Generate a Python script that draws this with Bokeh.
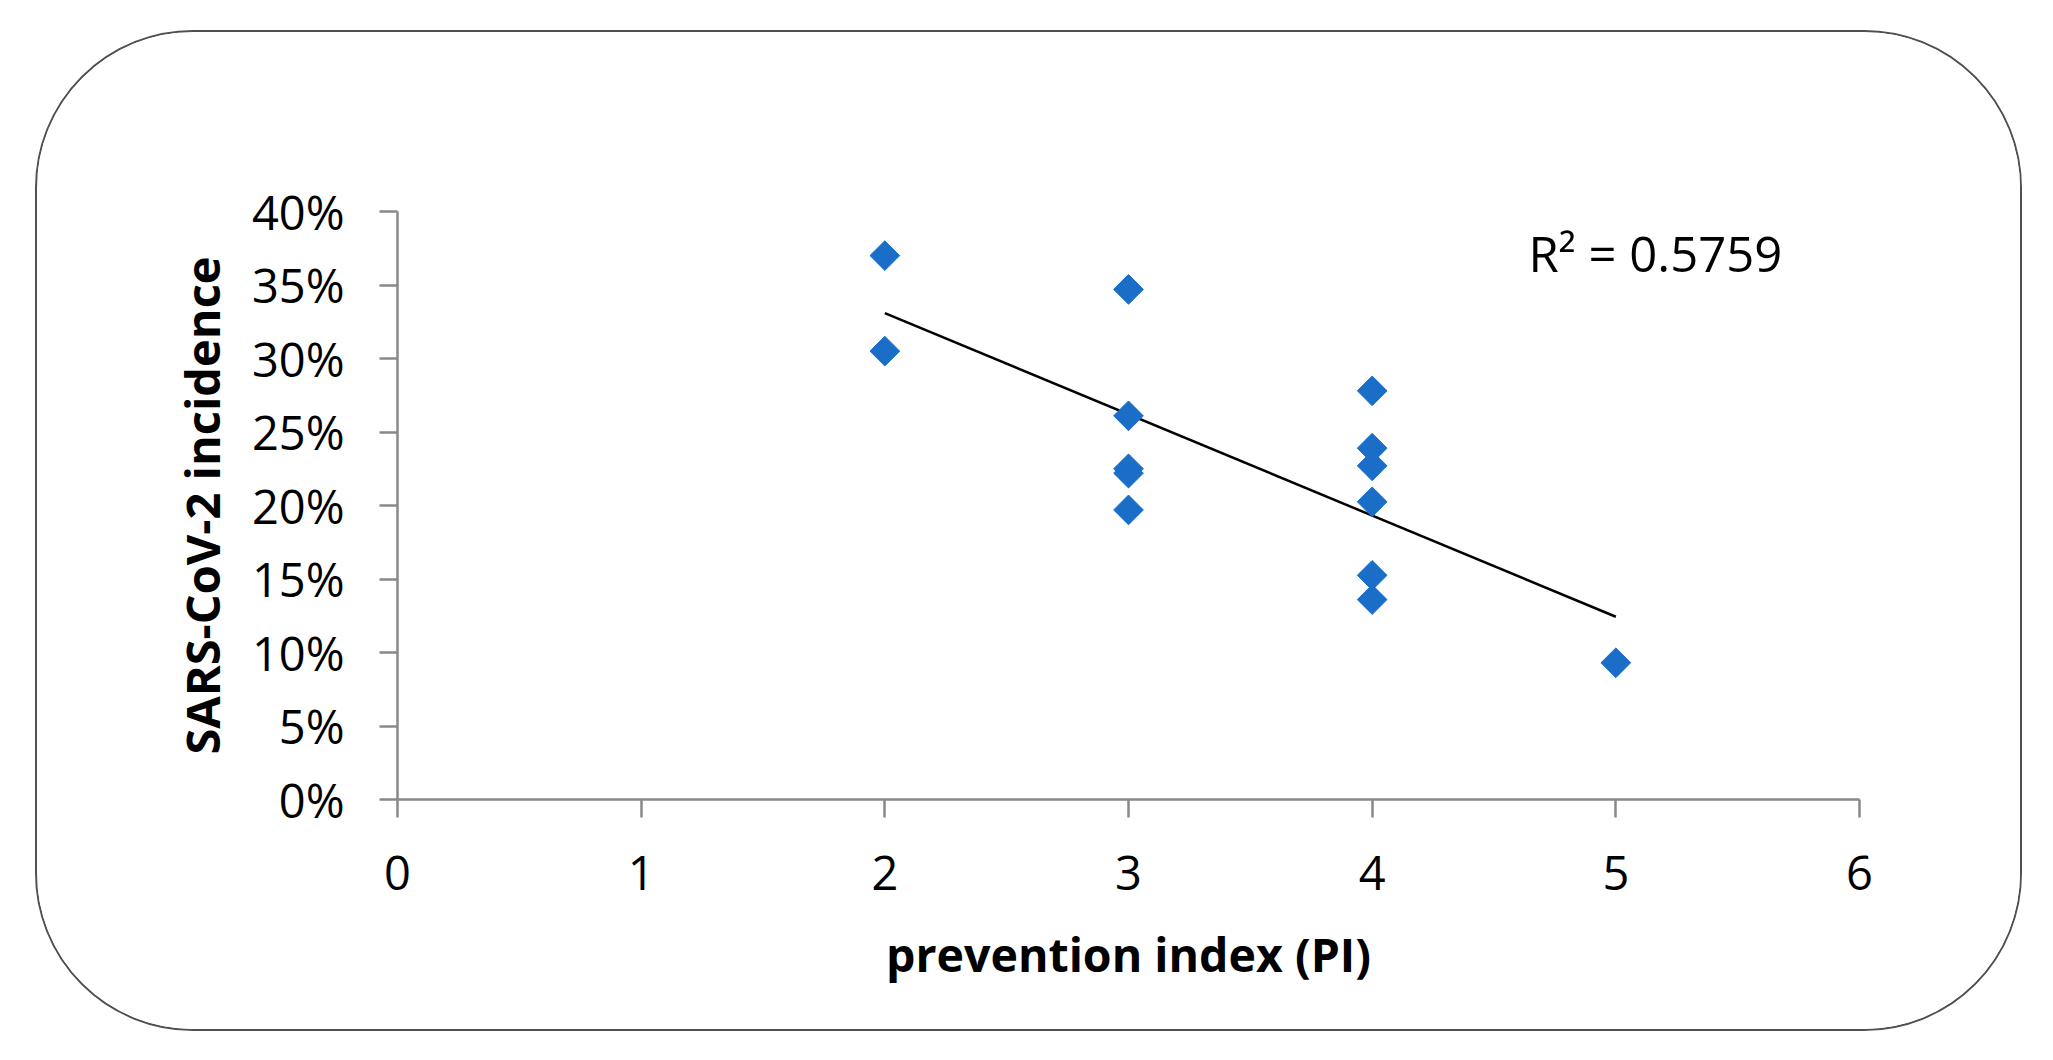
import numpy as np
from bokeh.plotting import figure
from bokeh.models import (Range1d, FixedTicker, NumeralTickFormatter, Label,
                          ColumnDataSource)
from bokeh.embed import file_html
from bokeh.resources import INLINE

# ---- data ----
prevention_index = [2, 2, 3, 3, 3, 3, 3, 4, 4, 4, 4, 4, 4, 5]
incidence = [0.370, 0.305, 0.347, 0.261, 0.225, 0.222, 0.197,
             0.278, 0.239, 0.227, 0.2025, 0.1525, 0.136, 0.093]
x_ticks = [0, 1, 2, 3, 4, 5, 6]
y_ticks = [0.0, 0.05, 0.10, 0.15, 0.20, 0.25, 0.30, 0.35, 0.40]
r2_text = "R\u00b2 = 0.5759"
x_title = "prevention index (PI)"
y_title = "SARS-CoV-2 incidence"

# linear trend line (least squares fit of the data)
slope, intercept = np.polyfit(prevention_index, incidence, 1)
trend_x = [min(prevention_index), max(prevention_index)]
trend_y = [slope * v + intercept for v in trend_x]

FONT = "Open Sans"
AXIS_COLOR = "#898989"

p = figure(width=1987, height=1001, output_backend="svg", toolbar_location=None,
           x_range=Range1d(0, 6), y_range=Range1d(0, 0.40),
           min_border_left=360, min_border_right=165,
           min_border_top=179, min_border_bottom=234)
p.margin = (30, 0, 0, 35)
p.styles = {"border": "2px solid #505050", "border-radius": "158px",
            "overflow": "hidden"}
p.outline_line_color = None
p.grid.visible = False
p.background_fill_color = "white"
p.border_fill_color = "white"

src = ColumnDataSource(dict(x=prevention_index, y=incidence))
p.line(trend_x, trend_y, line_color="black", line_width=2.5)
p.scatter("x", "y", source=src, marker="square", angle=np.pi / 4, size=21,
          fill_color="#1b6ec8", line_color="#1b6ec8", line_width=1)

for ax in (p.xaxis[0], p.yaxis[0]):
    ax.axis_line_color = AXIS_COLOR
    ax.axis_line_width = 2.5
    ax.major_tick_line_color = AXIS_COLOR
    ax.major_tick_line_width = 2.5
    ax.major_tick_out = 18
    ax.major_tick_in = 0
    ax.minor_tick_line_color = None
    ax.major_label_text_font = FONT
    ax.major_label_text_font_size = "47px"
    ax.major_label_text_color = "black"
    ax.axis_label_text_font = FONT
    ax.axis_label_text_font_size = "47px"
    ax.axis_label_text_font_style = "bold"
    ax.axis_label_text_color = "black"

p.xaxis[0].ticker = FixedTicker(ticks=x_ticks)
p.yaxis[0].ticker = FixedTicker(ticks=y_ticks)
p.yaxis[0].formatter = NumeralTickFormatter(format="0%")
p.xaxis[0].axis_label = x_title
p.yaxis[0].axis_label = y_title
p.xaxis[0].axis_label_text_font_size = "46.5px"
p.xaxis[0].major_label_standoff = 38
p.yaxis[0].major_label_standoff = 35
p.xaxis[0].axis_label_standoff = 29
p.yaxis[0].axis_label_standoff = 15

p.add_layout(Label(x=4.642, y=0.372, text=r2_text, text_font=FONT,
                   text_font_size="49px", text_color="black",
                   text_baseline="middle", text_align="left"))

open("out.html", "w").write(file_html(p, INLINE))
